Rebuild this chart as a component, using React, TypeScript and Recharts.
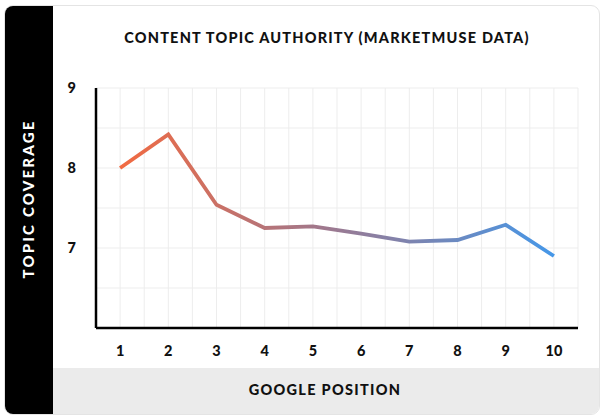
import React from 'react';
import { LineChart, Line, XAxis, YAxis, CartesianGrid } from 'recharts';

// Google position vs. topic coverage (MarketMuse data)
const positions = [1, 2, 3, 4, 5, 6, 7, 8, 9, 10];
const coverage = [8.0, 8.42, 7.54, 7.25, 7.27, 7.18, 7.08, 7.1, 7.29, 6.9];
const xGridTicks = [0.5, 1, 1.5, 2, 2.5, 3, 3.5, 4, 4.5, 5, 5.5, 6, 6.5, 7, 7.5, 8, 8.5, 9, 9.5, 10, 10.5];
const yGridTicks = [6, 6.5, 7, 7.5, 8, 8.5, 9];
const yLabels = [7, 8, 9];

const data = positions.map((p, i) => ({ position: p, coverage: coverage[i] }));

const FONT = 'Lato, "DejaVu Sans", sans-serif';

const tickStyle = { fill: '#111', fontSize: 14.5, fontWeight: 900, fontFamily: FONT };

export default function App() {
  return (
    <div style={{ position: 'absolute', left: 0, top: 0, width: 606, height: 419, background: '#fff', overflow: 'hidden' }}>
      <div
        style={{
          position: 'absolute',
          left: 4,
          top: 5,
          width: 594,
          height: 408,
          border: '1px solid #e4e4e4',
          borderRadius: 9,
          overflow: 'hidden',
          background: '#fff',
        }}
      >
        <div style={{ position: 'absolute', left: 0, top: 0, width: 48, height: '100%', background: '#000' }} />
        <div style={{ position: 'absolute', left: 48, top: 362, right: 0, bottom: 0, background: '#ebebeb' }} />
      </div>

      <div
        style={{
          position: 'absolute',
          left: 52,
          width: 550,
          top: 29,
          textAlign: 'center',
          fontFamily: FONT,
          fontWeight: 900,
          fontSize: 14.5,
          letterSpacing: 1.2,
          color: '#111',
        }}
      >
        CONTENT TOPIC AUTHORITY (MARKETMUSE DATA)
      </div>

      <div
        style={{
          position: 'absolute',
          left: 52,
          width: 546,
          top: 381,
          textAlign: 'center',
          fontFamily: FONT,
          fontWeight: 900,
          fontSize: 14.5,
          letterSpacing: 1.3,
          color: '#111',
        }}
      >
        GOOGLE POSITION
      </div>

      <div
        style={{
          position: 'absolute',
          left: 28,
          top: 199,
          transform: 'translate(-50%, -50%) rotate(-90deg)',
          whiteSpace: 'nowrap',
          fontFamily: FONT,
          fontWeight: 900,
          fontSize: 15,
          letterSpacing: 2.2,
          color: '#fff',
        }}
      >
        TOPIC COVERAGE
      </div>

      <div style={{ position: 'absolute', left: 0, top: 0 }}>
        <LineChart width={606} height={419} data={data} margin={{ top: 88, right: 28, bottom: 61, left: 56 }}>
          <defs>
            <linearGradient id="lineGrad" x1="0" y1="0" x2="1" y2="0">
              <stop offset="0%" stopColor="#f26a41" />
              <stop offset="45%" stopColor="#a2778a" />
              <stop offset="100%" stopColor="#4597e8" />
            </linearGradient>
          </defs>
          <CartesianGrid stroke="#ededed" strokeWidth={1} />
          <XAxis
            dataKey="position"
            type="number"
            domain={[0.5, 10.5]}
            ticks={xGridTicks}
            interval={0}
            height={30}
            tickLine={false}
            axisLine={{ stroke: '#000', strokeWidth: 2.5 }}
            tick={tickStyle}
            tickMargin={12}
            tickFormatter={(v: number) => (positions.includes(v) ? String(v) : '')}
          />
          <YAxis
            type="number"
            domain={[6, 9]}
            ticks={yGridTicks}
            interval={0}
            width={40}
            tickLine={false}
            axisLine={{ stroke: '#000', strokeWidth: 2.5 }}
            tick={tickStyle}
            tickMargin={14}
            tickFormatter={(v: number) => (yLabels.includes(v) ? String(v) : '')}
          />
          <Line
            type="linear"
            dataKey="coverage"
            stroke="url(#lineGrad)"
            strokeWidth={3.8}
            dot={false}
            activeDot={false}
            isAnimationActive={false}
          />
        </LineChart>
      </div>
    </div>
  );
}
